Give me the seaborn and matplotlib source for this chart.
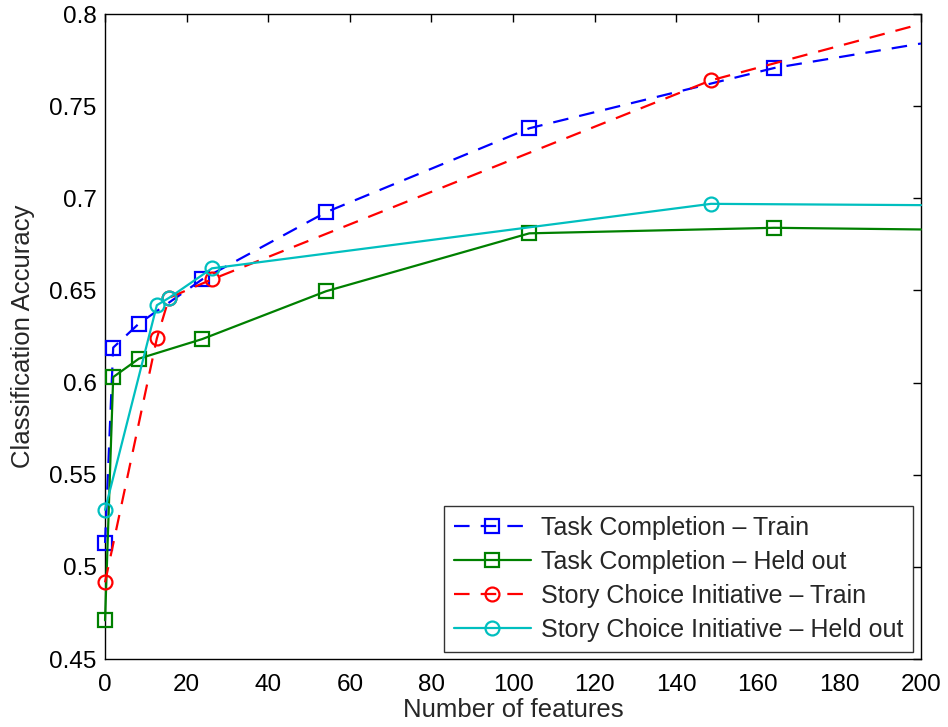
import matplotlib
matplotlib.use("Agg")
import matplotlib.pyplot as plt
import seaborn as sns

# values (last point of each series is where the line leaves the axes at x=200)
tc_train_x = [0, 2, 8.3, 23.8, 54.2, 104, 164, 200]
tc_train_y = [0.513, 0.619, 0.632, 0.656, 0.6925, 0.738, 0.7707, 0.784]

tc_held_x = [0, 2, 8.3, 23.8, 54.2, 104, 164, 200]
tc_held_y = [0.471, 0.603, 0.613, 0.6236, 0.6496, 0.681, 0.684, 0.6831]

sc_train_x = [0, 12.7, 15.7, 26.2, 148.5, 200]
sc_train_y = [0.4916, 0.624, 0.646, 0.656, 0.764, 0.7946]

sc_held_x = [0, 12.7, 15.7, 26.2, 148.5, 200]
sc_held_y = [0.531, 0.642, 0.646, 0.662, 0.697, 0.6963]

labels = ['Task Completion \u2013 Train', 'Task Completion \u2013 Held out',
          'Story Choice Initiative \u2013 Train', 'Story Choice Initiative \u2013 Held out']

yticks = [0.45, 0.5, 0.55, 0.6, 0.65, 0.7, 0.75, 0.8]
ytick_labels = ['0.45', '0.5', '0.55', '0.6', '0.65', '0.7', '0.75', '0.8']
xticks = [0, 20, 40, 60, 80, 100, 120, 140, 160, 180, 200]

sns.set_style('white')
plt.rcParams['font.family'] = ['Liberation Sans', 'DejaVu Sans']

fig = plt.figure(figsize=(9.48, 7.27), dpi=100)
ax = fig.add_axes([0.1108, 0.0935, 0.8607, 0.8872])

series = [
    (tc_train_x, tc_train_y, 'blue', 's', True),
    (tc_held_x, tc_held_y, 'green', 's', False),
    (sc_train_x, sc_train_y, 'red', 'o', True),
    (sc_held_x, sc_held_y, '#00bfbf', 'o', False),
]

for (xs, ys, col, mk, dashed), lab in zip(series, labels):
    ls = (0, (7, 5)) if dashed else '-'
    sns.lineplot(x=xs, y=ys, ax=ax, color=col, marker=mk, markersize=10,
                 markerfacecolor='none', markeredgecolor=col, markeredgewidth=1.6,
                 linewidth=1.6, linestyle=ls, label=lab, errorbar=None,
                 markevery=list(range(len(xs) - 1)), clip_on=False, zorder=3)

ax.set_xlim(0, 200)
ax.set_ylim(0.45, 0.8)
ax.set_xticks(xticks)
ax.set_xticklabels([str(t) for t in xticks])
ax.set_yticks(yticks)
ax.set_yticklabels(ytick_labels)
ax.tick_params(direction='in', length=6, width=1, top=True, right=True,
               labelsize=17.5, colors='black')
ax.tick_params(axis='x', pad=11)
ax.tick_params(axis='y', pad=6)
for sp in ax.spines.values():
    sp.set_visible(True)
    sp.set_color('black')
    sp.set_linewidth(1)

ax.set_xlabel('Number of features', fontsize=18.5, labelpad=1)
ax.set_ylabel('Classification Accuracy', fontsize=18.5, labelpad=10)

leg = ax.legend(loc='lower right', fontsize=18, handlelength=3.1, handletextpad=0.4,
                borderpad=0.4, labelspacing=0.4, frameon=True, fancybox=False,
                borderaxespad=0.3)
leg.get_frame().set_edgecolor('black')
leg.get_frame().set_linewidth(1)

fig.savefig('out.png', dpi=100)
